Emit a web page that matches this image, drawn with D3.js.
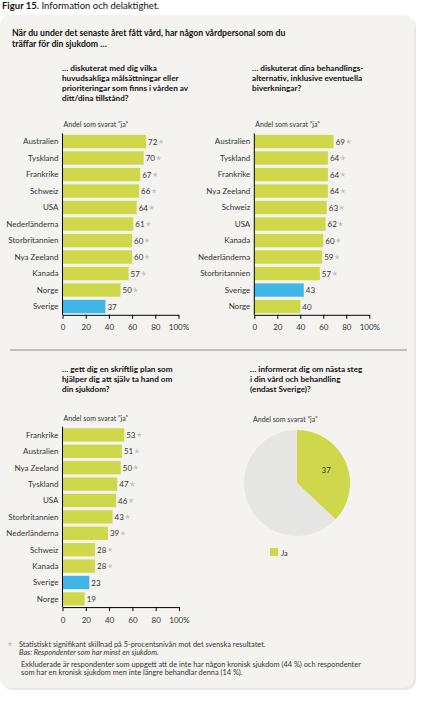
<!DOCTYPE html>
<html><head><meta charset="utf-8">
<script src="https://cdn.jsdelivr.net/npm/d3@7"></script>
<style>
html,body{margin:0;padding:0;background:#fff;}
svg{display:block;font-family:Lato, "Open Sans", sans-serif;}
</style></head>
<body>
<script>
// ---------- DATA ----------
const countries1 = ["Australien","Tyskland","Frankrike","Schweiz","USA","Nederländerna","Storbritannien","Nya Zeeland","Kanada","Norge","Sverige"];
const values1    = [72,70,67,66,64,61,60,60,57,50,37];
const sig1       = [1,1,1,1,1,1,1,1,1,1,0];

const countries2 = ["Australien","Tyskland","Frankrike","Nya Zeeland","Schweiz","USA","Kanada","Nederländerna","Storbritannien","Sverige","Norge"];
const values2    = [69,64,64,64,63,62,60,59,57,43,40];
const sig2       = [1,1,1,1,1,1,1,1,1,0,0];

const countries3 = ["Frankrike","Australien","Nya Zeeland","Tyskland","USA","Storbritannien","Nederländerna","Schweiz","Kanada","Sverige","Norge"];
const values3    = [53,51,50,47,46,43,39,28,28,23,19];
const sig3       = [1,1,1,1,1,1,1,1,1,0,0];

const pieLabels  = ["Ja","Nej"];
const pieValues  = [37,63];

const xTicks     = [0,20,40,60,80,100];
const highlight  = "Sverige";

const titleBold  = "Figur 15.";
const titleRest  = " Information och delaktighet.";
const question   = ["När du under det senaste året fått vård, har någon vårdpersonal som du","träffar för din sjukdom …"];
const sub1 = ["… diskuterat med dig vilka","huvudsakliga målsättningar eller","prioriteringar som finns i vården av","ditt/dina tillstånd?"];
const sub2 = ["… diskuterat dina behandlings-","alternativ, inklusive eventuella","biverkningar?"];
const sub3 = ["… gett dig en skriftlig plan som","hjälper dig att själv ta hand om","din sjukdom?"];
const sub4 = ["… informerat dig om nästa steg","i din vård och behandling","(endast Sverige)?"];
const axisCaption = "Andel som svarat ”ja”";
const foot = ["Statistiskt signifikant skillnad på 5-procentsnivån mot det svenska resultatet.",
              "Bas: Respondenter som har minst en sjukdom.",
              "Exkluderade är respondenter som uppgett att de inte har någon kronisk sjukdom (44 %) och respondenter",
              "som har en kronisk sjukdom men inte längre behandlar denna (14 %)."];

// ---------- STYLE ----------
const W = 427, H = 702;
const GREEN = "#cfd84b", BLUE = "#40b6e6", GREY_PIE = "#e6e6e4", PANEL = "#f4f3f0";
const TXT = "#333";

const svg = d3.select("body").append("svg").attr("width", W).attr("height", H);

// panel
svg.append("rect").attr("x", 2).attr("y", 17).attr("width", 414).attr("height", 673)
  .attr("rx", 10).attr("fill", "#e9e8e5");
svg.append("rect").attr("x", 0).attr("y", 15).attr("width", 414).attr("height", 673)
  .attr("rx", 10).attr("fill", PANEL);

// title
const t = svg.append("text").attr("x", 2).attr("y", 9).attr("font-size", 9.5).attr("fill", "#111");
t.append("tspan").attr("font-weight", "bold").text(titleBold);
t.append("tspan").text(titleRest);

function lines(arr, x, y, lh, size, weight, fill) {
  const g = svg.append("text").attr("font-size", size).attr("font-weight", weight).attr("fill", fill || "#111");
  arr.forEach((s, i) => g.append("tspan").attr("x", x).attr("y", y + i * lh).text(s));
  return g;
}
lines(question, 12, 36, 11, 8.7, "bold");
lines(sub1, 62, 71, 10, 8.2, "bold");
lines(sub2, 252, 71, 10, 8.2, "bold");
lines(sub3, 62, 372, 10, 8.2, "bold");
lines(sub4, 250, 372, 10, 8.2, "bold");

// separator
svg.append("line").attr("x1", 10).attr("x2", 407).attr("y1", 350).attr("y2", 350)
  .attr("stroke", "#8a8a8a").attr("stroke-width", 1);

// bar chart
function barChart(cats, vals, sig, x0, x1, y0, y1) {
  const x = d3.scaleLinear().domain([0, 100]).range([x0, x1]);
  const y = d3.scaleBand().domain(cats).range([y0, y1]).paddingInner(0.19).paddingOuter(0.095);
  const g = svg.append("g");
  g.append("text").attr("x", x0 + 1).attr("y", y0 - 6).attr("font-size", 7).attr("fill", TXT).text(axisCaption);
  g.selectAll("rect.bar").data(cats).join("rect").attr("class", "bar")
    .attr("x", x(0)).attr("y", d => y(d)).attr("height", y.bandwidth())
    .attr("width", (d, i) => x(vals[i]) - x(0))
    .attr("fill", d => d === highlight ? BLUE : GREEN);
  g.selectAll("text.val").data(cats).join("text").attr("class", "val")
    .attr("x", (d, i) => x(vals[i]) + 2).attr("y", d => y(d) + y.bandwidth() / 2 + 3)
    .attr("font-size", 8).attr("fill", TXT).text((d, i) => vals[i]);
  g.selectAll("path.sig").data(cats.filter((d, i) => sig[i])).join("path").attr("class", "sig")
    .attr("d", d3.symbol(d3.symbolStar, 10))
    .attr("transform", d => `translate(${x(vals[cats.indexOf(d)]) + 15},${y(d) + y.bandwidth() / 2})`)
    .attr("fill", "#c4c4c4");
  g.selectAll("text.cat").data(cats).join("text").attr("class", "cat")
    .attr("x", x0 - 4).attr("y", d => y(d) + y.bandwidth() / 2 + 2.8)
    .attr("text-anchor", "end").attr("font-size", 8).attr("fill", TXT).text(d => d);
  // vertical axis line
  g.append("line").attr("x1", x0).attr("x2", x0).attr("y1", y0).attr("y2", y1).attr("stroke", "#000").attr("stroke-width", 1);
  const ax = g.append("g").attr("transform", `translate(0,${y1})`)
    .call(d3.axisBottom(x).tickValues(xTicks).tickSize(4).tickSizeOuter(0).tickPadding(6)
      .tickFormat(d => d === 100 ? "100%" : d));
  ax.select(".domain").attr("stroke", "#000");
  ax.selectAll(".tick line").attr("stroke", "#000");
  ax.selectAll("text").attr("font-size", 8).attr("fill", TXT).attr("font-family", "Lato, sans-serif");
}
barChart(countries1, values1, sig1, 62.5, 178.5, 133.3, 314.8);
barChart(countries2, values2, sig2, 254.3, 369.3, 133.3, 314.8);
barChart(countries3, values3, sig3, 62.5, 179, 426.7, 607.1);

// pie
svg.append("text").attr("x", 253).attr("y", 422).attr("font-size", 7).attr("fill", TXT).text(axisCaption);
const pcx = 297, pcy = 483, pr = 53;
const pie = d3.pie().sort(null).value(d => d)(pieValues);
const arc = d3.arc().innerRadius(0).outerRadius(pr);
const pg = svg.append("g").attr("transform", `translate(${pcx},${pcy})`);
pg.selectAll("path").data(pie).join("path").attr("d", arc)
  .attr("fill", (d, i) => i === 0 ? GREEN : GREY_PIE);
const labArc = d3.arc().innerRadius(pr * 0.6).outerRadius(pr * 0.6);
pg.append("text").attr("transform", `translate(${labArc.centroid(pie[0])})`)
  .attr("text-anchor", "middle").attr("dy", 3).attr("font-size", 8).attr("fill", TXT).text(pieValues[0]);
svg.append("rect").attr("x", 270).attr("y", 548).attr("width", 8).attr("height", 8).attr("fill", GREEN);
svg.append("text").attr("x", 281).attr("y", 555.5).attr("font-size", 7.5).attr("fill", TXT).text(pieLabels[0]);

// footnotes
svg.append("path").attr("d", d3.symbol(d3.symbolStar, 10)).attr("transform", "translate(10,644)").attr("fill", "#c4c4c4");
lines([foot[0]], 19, 647, 8, 7.4, "normal", TXT);
lines([foot[1]], 19, 655, 8, 7.4, "normal", TXT).attr("font-style", "italic");
lines([foot[2], foot[3]], 21, 666.5, 8, 7.4, "normal", TXT);
</script>
</body></html>
